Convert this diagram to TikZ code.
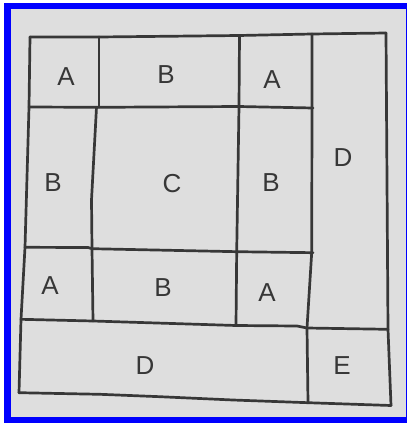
\documentclass[tikz,border=0pt]{standalone}
\usepackage{fontspec}
\setmainfont{Liberation Sans}
\definecolor{paper}{RGB}{222,222,222}
\definecolor{ink}{RGB}{55,55,55}
\definecolor{frameblue}{RGB}{0,0,255}
\begin{document}
\begin{tikzpicture}[x=1pt,y=-1pt,
  gridline/.style={draw=ink,line width=2.7pt,line join=round,line cap=round},
  letter/.style={text=ink,font=\fontsize{26}{26}\selectfont,inner sep=0pt}]
\useasboundingbox (0,0) rectangle (407,423);
\fill[white] (0,0) rectangle (407,423);
\fill[frameblue] (4,3) rectangle (407,423);
\fill[paper] (10.5,8.5) rectangle (405.8,417);
% horizontals
\draw[gridline] (30,37) -- (99,37) -- (239,35.5) -- (312,34) -- (386,33);
\draw[gridline] (29,107) -- (99,107.3) -- (239,106.5) -- (313,108);
\draw[gridline] (25,247.3) -- (88,247.5) -- (92,248.7) -- (237,251.7) -- (313,252.7);
\draw[gridline] (21,319.3) -- (93,321) -- (236,325.5) -- (297,326) -- (307,328) -- (388,329.3);
\draw[gridline] (19,392.7) -- (100,394.3) -- (160,396.7) -- (233,400) -- (308,402.7) -- (391,405.5);
% verticals
\draw[gridline] (30,37) -- (29,107) -- (25,247.3) -- (21,319.3) -- (19,392.7);
\draw[gridline] (99,37) -- (99,107.3);
\draw[gridline] (96.5,107.3) -- (91.5,200) -- (92,248.7) -- (93,321);
\draw[gridline] (239.5,35.5) -- (239,106.5) -- (236.7,251.7) -- (236,325.5);
\draw[gridline] (312,34) -- (312,108) -- (311.7,252.7) -- (307,328) -- (308,402.7);
\draw[gridline] (386,33) -- (388,329.3) -- (391,405.5);
% labels
\node[letter] (a1) at (66,77) {A};
\node[letter] (b1) at (166,75) {B};
\node[letter] (a2) at (272,80) {A};
\node[letter] (d1) at (343,158) {D};
\node[letter] (b2) at (53,183) {B};
\node[letter] (c1) at (172,184) {C};
\node[letter] (b3) at (271,183) {B};
\node[letter] (a3) at (50,286) {A};
\node[letter] (b4) at (163,288) {B};
\node[letter] (a4) at (267,293) {A};
\node[letter] (d2) at (145,366) {D};
\node[letter] (e1) at (342,366) {E};
\end{tikzpicture}
\end{document}
